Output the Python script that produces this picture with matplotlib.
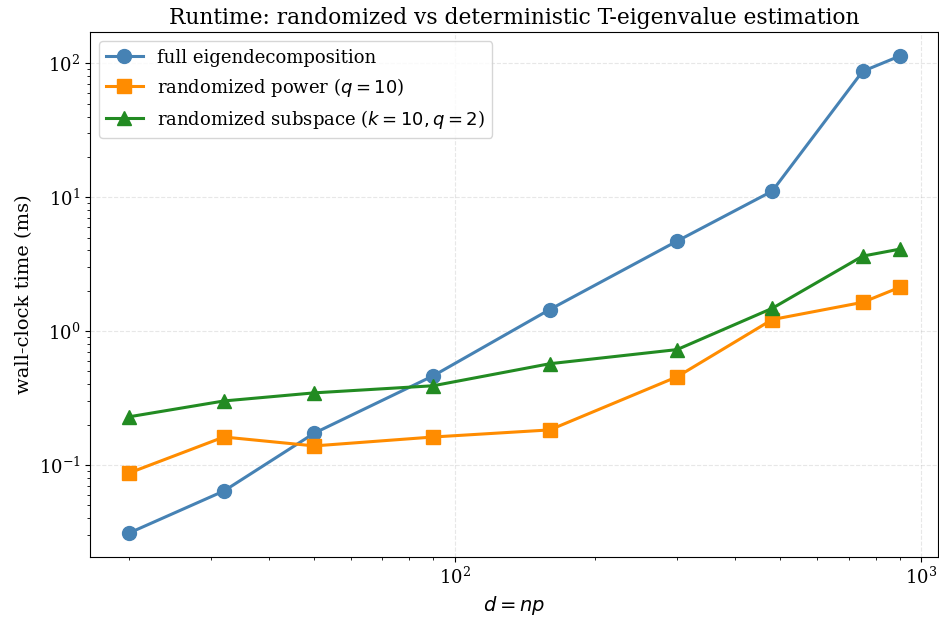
import numpy as np
import matplotlib
matplotlib.use("Agg")
import matplotlib.pyplot as plt

plt.rcParams["font.family"] = "DejaVu Serif"

d_vals = [20, 32, 50, 90, 160, 300, 480, 750, 900]
t_full = [0.031, 0.064, 0.173, 0.464, 1.45, 4.70, 11.1, 87.0, 113.0]
t_power = [0.087, 0.162, 0.139, 0.162, 0.183, 0.456, 1.22, 1.64, 2.12]
t_subspace = [0.229, 0.301, 0.346, 0.391, 0.571, 0.728, 1.48, 3.63, 4.09]

fig, ax = plt.subplots(figsize=(9.39, 6.21), dpi=100)
ax.loglog(d_vals, t_full, "-o", color="steelblue", lw=2.2, ms=10, label="full eigendecomposition")
ax.loglog(d_vals, t_power, "-s", color="darkorange", lw=2.2, ms=10, label=r"randomized power ($q=10$)")
ax.loglog(d_vals, t_subspace, "-^", color="forestgreen", lw=2.2, ms=10,
          label=r"randomized subspace ($k=10, q=2$)")

ax.set_xlabel(r"$d = np$", fontsize=14)
ax.set_ylabel("wall-clock time (ms)", fontsize=14)
ax.set_title("Runtime: randomized vs deterministic T-eigenvalue estimation", fontsize=15.7)
ax.tick_params(labelsize=13)
ax.grid(True, which="major", ls="--", alpha=0.3)
ax.legend(fontsize=13, loc="upper left")

fig.subplots_adjust(left=0.096, right=0.999, top=0.948, bottom=0.103)
fig.savefig("out.png", dpi=100)
